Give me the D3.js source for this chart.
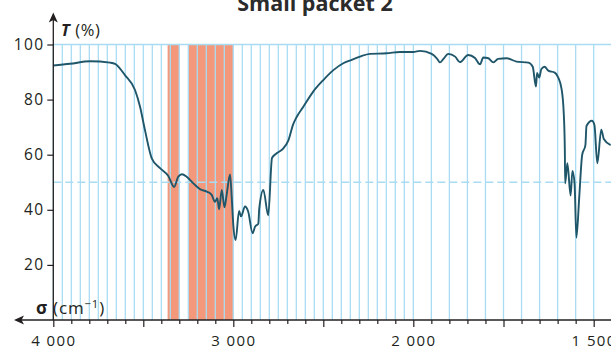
<!DOCTYPE html>
<html>
<head>
<meta charset="utf-8">
<script src="https://cdn.jsdelivr.net/npm/d3@7/dist/d3.min.js"></script>
<style>
  html, body { margin: 0; padding: 0; background: #fff; }
  svg { display: block; font-family: "Open Sans", "Noto Sans", sans-serif; }
</style>
</head>
<body>
<svg id="chart" width="611" height="350"></svg>
<script>
// ---- data ----
const title = "Small packet 2";
const wavenumber = [4000,3907,3796,3685,3657,3602,3546,3518,3491,3453,3407,3361,3329,3306,3285,3259,3222,3185,3148,3120,3102,3089,3079,3064,3049,3037,3018,3009,3000,2987,2968,2957,2935,2917,2893,2879,2861,2856,2833,2806,2785,2759,2722,2694,2667,2648,2611,2556,2500,2444,2389,2342,2296,2241,2148,2074,2000,1981,1949,1935,1926,1917,1903,1884,1871,1848,1829,1815,1806,1792,1778,1765,1741,1714,1681,1669,1660,1657,1651,1645,1636,1626,1608,1599,1589,1583,1580,1579,1573,1564,1559,1553,1548,1540,1532,1523,1520,1505,1498,1490,1479,1472,1453];
const transmittance = [92.4,93.0,93.9,93.4,93.0,88.9,83.5,77.4,69.0,58.7,55.1,52.3,48.3,52.0,52.9,52.0,49.6,47.5,46.6,45.4,42.9,44.2,40.2,47.2,40.9,45.4,52.8,44.8,34.5,29.0,39.6,37.6,41.2,39.3,31.5,33.9,35.0,40.3,47.2,38.0,58.8,60.5,62.3,65.2,71.1,73.7,77.4,82.9,87.1,90.7,93.2,94.4,95.6,96.6,96.8,97.3,97.3,97.7,96.6,95.0,93.5,94.7,96.6,95.6,93.6,96.2,95.1,92.8,95.3,95.0,93.5,94.8,95.0,93.8,93.4,91.9,84.7,89.7,88.0,91.1,91.9,90.5,89.8,88.2,83.8,75.0,61.7,49.6,56.9,45.2,54.1,49.5,29.9,44.8,59.9,63.5,70.4,72.3,70.8,56.9,69.1,65.7,63.5];
const bandStarts = [3365, 3250];
const bandEnds   = [3302, 3002];
const xLabelValues = [4000, 3000, 2000, 1500];
const xLabelTexts  = ["4 000", "3 000", "2 000", "1 500"];
const xMajorTicks  = [4000, 3500, 3000, 2500, 2000, 1750, 1500];
const yTickValues  = [20, 40, 60, 80, 100];
const yReference   = 50;

// ---- layout ----
const svg = d3.select("#chart");
const x = d3.scaleLinear().domain([4000, 2000, 1500]).range([53.3, 413.3, 593.7]);
const y = d3.scaleLinear().domain([0, 100]).range([320, 44.5]);
const axisY = 320, axisX = 53.3, rightEdge = 611;
const gridColor = "#a9dcf3";
const ink = "#231f20";
const fontFam = "'Open Sans', sans-serif";

const gridValues = d3.range(4000, 1499, -50);
const minorTicks = d3.range(4000, 1999, -100).concat(d3.range(1950, 1499, -50))
  .filter(v => !xMajorTicks.includes(v));

// orange bands
svg.append("g").selectAll("rect").data(bandStarts).join("rect")
  .attr("x", d => x(d))
  .attr("width", (d, i) => x(bandEnds[i]) - x(d))
  .attr("y", y(100))
  .attr("height", y(0) - y(100))
  .attr("fill", "#f4987b");

// vertical grid lines
svg.append("g").selectAll("line").data(gridValues).join("line")
  .attr("x1", d => x(d)).attr("x2", d => x(d))
  .attr("y1", y(0)).attr("y2", y(100))
  .attr("stroke", gridColor).attr("stroke-width", 1.3);

// 100 line
svg.append("line")
  .attr("x1", axisX).attr("x2", rightEdge)
  .attr("y1", y(100)).attr("y2", y(100))
  .attr("stroke", gridColor).attr("stroke-width", 1.5);

// 50 dashed line
svg.append("line")
  .attr("x1", axisX).attr("x2", rightEdge)
  .attr("y1", y(yReference)).attr("y2", y(yReference))
  .attr("stroke", gridColor).attr("stroke-width", 1.6)
  .attr("stroke-dasharray", "8,4");

// curve
const pts = wavenumber.map((w, i) => [w, transmittance[i]]);
svg.append("path")
  .datum(pts)
  .attr("d", d3.line().x(d => x(d[0])).y(d => y(d[1])).curve(d3.curveMonotoneX))
  .attr("fill", "none")
  .attr("stroke", "#1f566a")
  .attr("stroke-width", 1.9)
  .attr("stroke-linejoin", "round");

// x axis ticks
const gx = svg.append("g").attr("transform", `translate(0,${axisY})`);
gx.call(d3.axisBottom(x).tickValues(minorTicks).tickSize(4).tickFormat(""))
  .call(g => g.select(".domain").remove())
  .call(g => g.selectAll("line").attr("stroke", ink).attr("stroke-width", 1.2));
const gx2 = svg.append("g").attr("transform", `translate(0,${axisY})`);
gx2.call(d3.axisBottom(x).tickValues(xMajorTicks).tickSize(7)
      .tickFormat(d => { const k = xLabelValues.indexOf(d); return k >= 0 ? xLabelTexts[k] : ""; }))
  .call(g => g.select(".domain").remove())
  .call(g => g.selectAll("line").attr("stroke", ink).attr("stroke-width", 1.2))
  .call(g => g.selectAll("text").attr("y", 25.5).attr("dy", 0).attr("font-size", 15)
      .attr("letter-spacing", 1.4).attr("fill", ink).attr("font-family", fontFam));

// x axis line with arrow (pointing left)
svg.append("line")
  .attr("x1", rightEdge).attr("x2", 20).attr("y1", axisY).attr("y2", axisY)
  .attr("stroke", ink).attr("stroke-width", 1.3);
svg.append("path")
  .attr("d", `M14,${axisY} L24,${axisY - 4.5} L21.5,${axisY} L24,${axisY + 4.5} Z`)
  .attr("fill", ink);

// y axis
const gy = svg.append("g").attr("transform", `translate(${axisX},0)`);
gy.call(d3.axisLeft(y).tickValues(yTickValues).tickSize(6).tickPadding(3))
  .call(g => g.select(".domain").remove())
  .call(g => g.selectAll("line").attr("stroke", ink).attr("stroke-width", 1.2))
  .call(g => g.selectAll("text").attr("font-size", 15.5).attr("letter-spacing", 1.3)
      .attr("fill", ink).attr("font-family", fontFam));
svg.append("line")
  .attr("x1", axisX).attr("x2", axisX).attr("y1", axisY).attr("y2", 19)
  .attr("stroke", ink).attr("stroke-width", 1.3);
svg.append("path")
  .attr("d", `M${axisX},12.5 L${axisX - 4.5},22.5 L${axisX},20 L${axisX + 4.5},22.5 Z`)
  .attr("fill", ink);

// axis titles
const tl = svg.append("text").attr("x", 61).attr("y", 35.5)
  .attr("font-size", 16.5).attr("fill", ink).attr("letter-spacing", 0.6);
tl.append("tspan").attr("font-style", "italic").attr("font-weight", "bold").text("T");
tl.append("tspan").text(" (%)");

const sl = svg.append("text").attr("x", 36).attr("y", 313.5)
  .attr("font-size", 17).attr("fill", ink).attr("letter-spacing", 0.8);
sl.append("tspan").attr("font-weight", "bold").text("σ");
sl.append("tspan").text(" (cm");
sl.append("tspan").attr("dy", -6).attr("font-size", 11.5).text("−1");
sl.append("tspan").attr("dy", 6).text(")");

// title
svg.append("text").attr("x", 315).attr("y", 11)
  .attr("text-anchor", "middle").attr("font-size", 21.5).attr("font-weight", "bold")
  .attr("fill", "#2b2b2b").text(title);
</script>
</body>
</html>
